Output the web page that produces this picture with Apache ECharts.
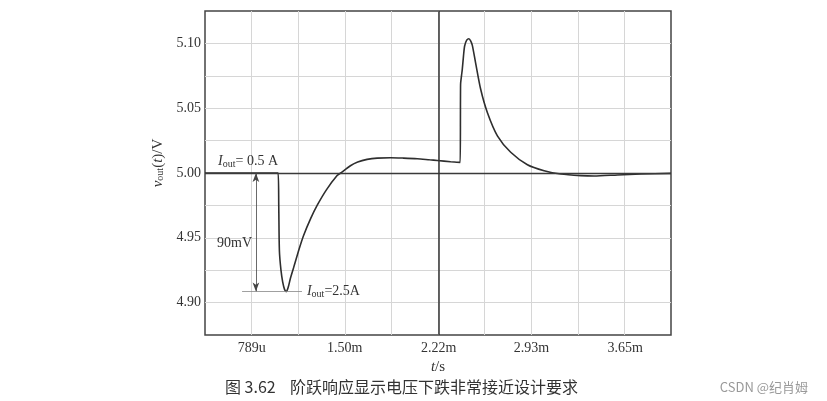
<!DOCTYPE html>
<html>
<head>
<meta charset="utf-8">
<script src="https://cdn.jsdelivr.net/npm/echarts@6/dist/echarts.min.js"></script>
<style>
  html, body { margin: 0; padding: 0; background: #fff; }
  #chart { width: 827px; height: 401px; }
</style>
</head>
<body>
<div id="chart"></div>
<script>
// 时间 (ms) 与输出电压 (V)
const timeMs = [0.43, 0.99, 0.995, 1.0, 1.012, 1.025, 1.04, 1.053, 1.068, 1.085, 1.109, 1.15, 1.186, 1.24, 1.289,
  1.36, 1.442, 1.47, 1.544, 1.6, 1.672, 1.75, 1.851, 1.95, 2.056, 2.15, 2.21, 2.312, 2.385,
  2.388, 2.395, 2.401, 2.41, 2.419, 2.435, 2.452, 2.465, 2.478, 2.503, 2.542, 2.593, 2.67, 2.772,
  2.9, 3.028, 3.156, 3.309, 3.411, 3.591, 3.77, 4.0];
const vout = [5.0, 5.0, 4.975, 4.94, 4.925, 4.916, 4.91, 4.9085, 4.912, 4.919, 4.927, 4.941, 4.952, 4.965, 4.975,
  4.987, 4.998, 5.0, 5.0056, 5.0085, 5.0105, 5.0115, 5.0118, 5.0115, 5.011, 5.0102, 5.0097, 5.0087, 5.0082,
  5.0685, 5.075, 5.08, 5.09, 5.098, 5.1025, 5.1036, 5.102, 5.0985, 5.085, 5.0646, 5.0467, 5.0287, 5.016,
  5.0064, 5.0018, 4.9992, 4.998, 4.9977, 4.9985, 4.9992, 4.9997];

const xTickValues = [0.789, 1.50, 2.22, 2.93, 3.65];
const xTickLabels = ['789u', '1.50m', '2.22m', '2.93m', '3.65m'];

const vNominal = 5.00;   // I_out = 0.5 A
const vDip = 4.9085;     // I_out = 2.5 A 时的最低点
const cursorTime = 2.22; // 光标位置
const arrowTime = 0.82;

const serif = '"Liberation Serif", "DejaVu Serif", serif';
const ink = '#333';

const chart = echarts.init(document.getElementById('chart'));
chart.setOption({
  animation: false,
  backgroundColor: '#fff',
  textStyle: { fontFamily: serif, color: ink },
  title: [
    {
      text: '图 3.62    阶跃响应显示电压下跌非常接近设计要求',
      left: 220, top: 374,
      textStyle: { fontFamily: '"Noto Sans CJK SC", sans-serif', fontSize: 16, fontWeight: 'normal', color: '#333' }
    },
    {
      text: 'CSDN @纪肖姆',
      right: 14, top: 376,
      textStyle: { fontFamily: '"Noto Sans CJK SC", sans-serif', fontSize: 13, fontWeight: 'normal', color: '#999' }
    }
  ],
  grid: {
    left: 205, right: 156, top: 11, bottom: 66,
    show: true, borderColor: '#444', borderWidth: 1.5, backgroundColor: '#fff'
  },
  xAxis: [
    {
      type: 'value', min: 0.43, max: 4.0,
      name: '{i|t}/s', nameLocation: 'middle', nameGap: 23,
      nameTextStyle: {
        fontSize: 15, color: ink,
        rich: { i: { fontStyle: 'italic', fontSize: 15, fontFamily: serif, color: ink } }
      },
      axisLine: { show: false }, axisTick: { show: false },
      axisLabel: {
        customValues: xTickValues, fontSize: 14, color: ink, margin: 6,
        formatter: v => {
          const i = xTickValues.findIndex(t => Math.abs(t - v) < 1e-6);
          return i >= 0 ? xTickLabels[i] : '';
        }
      },
      splitLine: { show: false }
    },
    {
      // 仅用于画竖直网格线 (10 格)
      type: 'value', min: 0, max: 10, interval: 1, position: 'top',
      axisLine: { show: false }, axisTick: { show: false }, axisLabel: { show: false },
      splitLine: { show: true, showMinLine: false, showMaxLine: false, lineStyle: { color: '#d6d6d6', width: 1 } }
    }
  ],
  yAxis: {
    type: 'value', min: 4.875, max: 5.125, interval: 0.025,
    name: '{i|v}{s|out}({i|t})/V', nameLocation: 'middle', nameGap: 29, nameRotate: 90,
    nameTextStyle: {
      fontSize: 15, color: ink, padding: [0, 0, 0, 20],
      rich: {
        i: { fontStyle: 'italic', fontSize: 15, fontFamily: serif, color: ink },
        s: { fontSize: 10, fontFamily: serif, color: ink, verticalAlign: 'bottom', padding: [6, 0, 0, 0] }
      }
    },
    axisLine: { show: false }, axisTick: { show: false },
    axisLabel: {
      fontSize: 14, color: ink, margin: 4,
      formatter: v => (Math.round(v * 1000) % 50 === 0 ? v.toFixed(2) : '')
    },
    splitLine: { show: true, showMinLine: false, showMaxLine: false, lineStyle: { color: '#d6d6d6', width: 1 } }
  },
  series: [{
    type: 'line',
    data: timeMs.map((t, i) => [t, vout[i]]),
    showSymbol: false,
    smooth: 0.25,
    lineStyle: { color: '#2e2e2e', width: 1.6 },
    markLine: {
      silent: true, symbol: 'none',
      label: { show: false },
      data: [
        { yAxis: vNominal, lineStyle: { color: '#3a3a3a', width: 1.3, type: 'solid' } },
        { xAxis: cursorTime, lineStyle: { color: '#333', width: 1.5, type: 'solid' } },
        [
          { coord: [arrowTime, vNominal], symbol: 'arrow', symbolSize: [5, 9], lineStyle: { color: '#444', width: 0.8, type: 'solid' } },
          { coord: [arrowTime, vDip], symbol: 'arrow', symbolSize: [5, 9] }
        ],
        [
          { coord: [0.714, vDip], lineStyle: { color: '#888', width: 0.8, type: 'solid' } },
          { coord: [1.173, vDip] }
        ]
      ]
    },
    markPoint: {
      silent: true, symbol: 'circle', symbolSize: 0,
      label: {
        show: true, position: 'right', distance: 0, color: ink, fontFamily: serif, fontSize: 14,
        rich: {
          i: { fontStyle: 'italic', fontSize: 14, fontFamily: serif, color: ink },
          s: { fontSize: 10, fontFamily: serif, color: ink, verticalAlign: 'bottom', padding: [5, 0, 0, 0] },
          n: { fontSize: 14, fontFamily: serif, color: ink }
        }
      },
      data: [
        { coord: [0.53, 5.0087], label: { formatter: '{i|I}{s|out}{n|= 0.5 A}' } },
        { coord: [0.522, 4.9455], label: { formatter: '{n|90mV}' } },
        { coord: [1.211, vDip], label: { formatter: '{i|I}{s|out}{n|=2.5A}' } }
      ]
    }
  }]
});
</script>
</body>
</html>
